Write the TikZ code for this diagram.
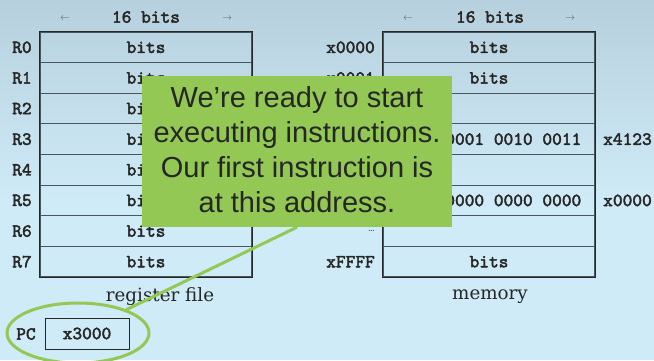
\documentclass[tikz,border=0pt]{standalone}
\usepackage{fontspec}
\usetikzlibrary{shapes.geometric}
\newfontfamily\callfont{Liberation Sans}
\newfontfamily\capfont{DejaVu Serif}
\newfontfamily\codefont{lmmono10-regular.otf}[FakeBold=2.4]
\newcommand\codeface{\codefont\fontsize{18.5}{20}\selectfont}
\definecolor{bgtop}{HTML}{B6D0DD}
\definecolor{bgbot}{HTML}{CFEBF7}
\definecolor{calloutgreen}{HTML}{92C853}
\definecolor{ink}{HTML}{262626}
\definecolor{gridline}{HTML}{4A565C}

\tikzset{
  cell/.style={draw=gridline, line width=1.2pt, minimum width=212pt,
    minimum height=30.625pt, inner sep=0pt, text=ink, font=\codeface},
  code/.style={text=ink, inner sep=0pt, font=\codeface},
  caption/.style={text=ink, inner sep=0pt, font=\capfont\fontsize{18.3}{22}\selectfont},
  arrowmark/.style={text=ink!75, inner sep=0pt, font=\fontsize{10}{10}\selectfont},
  callout/.style={fill=calloutgreen, minimum width=310pt, minimum height=151pt,
    inner sep=0pt},
  callouttxt/.style={text=ink, inner sep=0pt, align=center,
    font=\callfont\fontsize{29}{35}\selectfont},
  ring/.style={draw=calloutgreen, line width=3pt, ellipse, minimum width=142pt,
    minimum height=60pt, inner sep=0pt},
  pointer/.style={draw=calloutgreen, line width=3pt},
  pcbox/.style={draw=ink, line width=1pt, minimum width=84pt, minimum height=31pt,
    inner sep=0pt, text=ink, font=\codeface},
}

\begin{document}
\begin{tikzpicture}[x=1pt,y=-1pt]
\useasboundingbox (0,0) rectangle (654,360);
% background
\shade[top color=bgtop, bottom color=bgbot] (0,0) rectangle (654,200);
\fill[bgbot] (0,199.5) rectangle (654,360);

% register file
\node[code] (reghead) at (146,17) {16 bits};
\node[arrowmark] (regleft) at (65,19) {$\leftarrow$};
\node[arrowmark] (regright) at (227,19) {$\rightarrow$};
\foreach \i in {0,...,7} {
  \node[cell] (reg\i) at (146,{32+30.625*(\i+0.5)}) {bits};
  \node[code] (rlab\i) at (22,{32+30.625*(\i+0.5)}) {R\i};
}
\draw[ink, line width=1pt] (reg0.north west) rectangle (reg7.south east);
\node[caption] (regcap) at (160,297) {register file};

% memory
\node[code] (memhead) at (490,17) {16 bits};
\node[arrowmark] (memleft) at (408,19) {$\leftarrow$};
\node[arrowmark] (memright) at (570,19) {$\rightarrow$};
\foreach \i/\t in {0/bits,1/bits,2/{},3/{0100 0001 0010 0011},4/{},
                   5/{0000 0000 0000 0000},6/{},7/bits} {
  \node[cell] (mem\i) at (489,{32+30.625*(\i+0.5)}) {\t};
}
\draw[ink, line width=1pt] (mem0.north west) rectangle (mem7.south east);
\node[code, anchor=east] (maddr0) at (375,{32+30.625*0.5}) {x0000};
\node[code, anchor=east] (maddr1) at (375,{32+30.625*1.5}) {x0001};
\node[code, anchor=east, font=\fontsize{10}{10}\selectfont] (maddr6) at (375,{32+30.625*6.5}) {\dots};
\node[code, anchor=east] (maddr7) at (375,{32+30.625*7.5}) {xFFFF};
\node[code, anchor=west] (mval3) at (603,{32+30.625*3.5}) {x4123};
\node[code, anchor=west] (mval5) at (603,{32+30.625*5.5}) {x0000};
\node[caption] (memcap) at (490,297) {memory};

% program counter
\node[code] (pclab) at (26,334) {PC};
\node[pcbox] (pc) at (87,333.5) {x3000};
\node[ring] (pcring) at (78,333) {};

% callout
\node[callout] (note) at (297,151.5) {};
\node[callouttxt] (notetext) at (297,150) {We’re ready to start\\executing instructions.\\Our first instruction is\\at this address.};
\draw[pointer] (note.south) -- (pcring);
\end{tikzpicture}
\end{document}
